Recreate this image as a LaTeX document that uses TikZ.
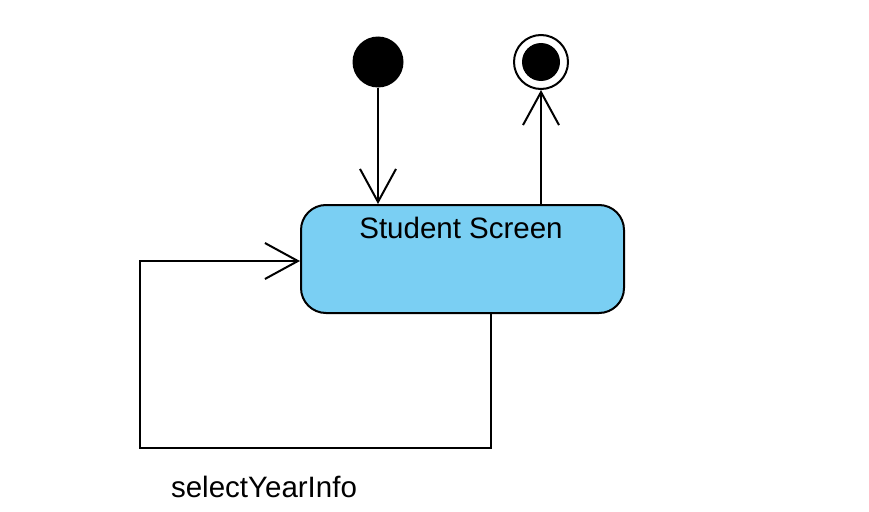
\documentclass[tikz,border=0pt]{standalone}
\usepackage{fontspec}
\setmainfont{Liberation Sans}
\usetikzlibrary{arrows.meta}

\definecolor{statefill}{RGB}{122,207,243}

\tikzstyle{initial} = [circle,fill=black,minimum size=51pt,inner sep=0pt]
\tikzstyle{final} = [circle,draw=black,line width=2pt,minimum size=54pt,inner sep=0pt]
\tikzstyle{state} = [rectangle,rounded corners=25pt,draw=black,line width=2pt,fill=statefill,minimum width=323pt,minimum height=108pt,inner sep=0pt]
\tikzstyle{trans} = [line width=2pt,-{Straight Barb[length=33pt,width=36pt,line width=2pt]}]
\tikzstyle{txt} = [font=\fontsize{29.5}{34}\selectfont,inner sep=0pt]

\begin{document}
\begin{tikzpicture}[x=1pt,y=-1pt]
	\useasboundingbox (0,0) rectangle (869,511);

	\node[initial] (start) at (378,62) {};
	\node[final] (stop) at (541,62) {};
	\fill (stop.center) circle (19pt);
	\node[state] (screen) at (462.5,259) {};
	\node[txt,anchor=base] (title) at (461,238) {Student Screen};

	\coordinate (k1) at (491,448);
	\coordinate (k2) at (140,261);
	\node[txt,anchor=base] (guard) at (264,497) {selectYearInfo};

	\draw[trans] (start) -- (start |- screen.north);
	\draw[trans] (screen.north -| stop) -- (stop);
	\draw[trans] (screen.south -| k1) -- (k1) -| (k2) -- (screen.west |- k2);
\end{tikzpicture}
\end{document}
